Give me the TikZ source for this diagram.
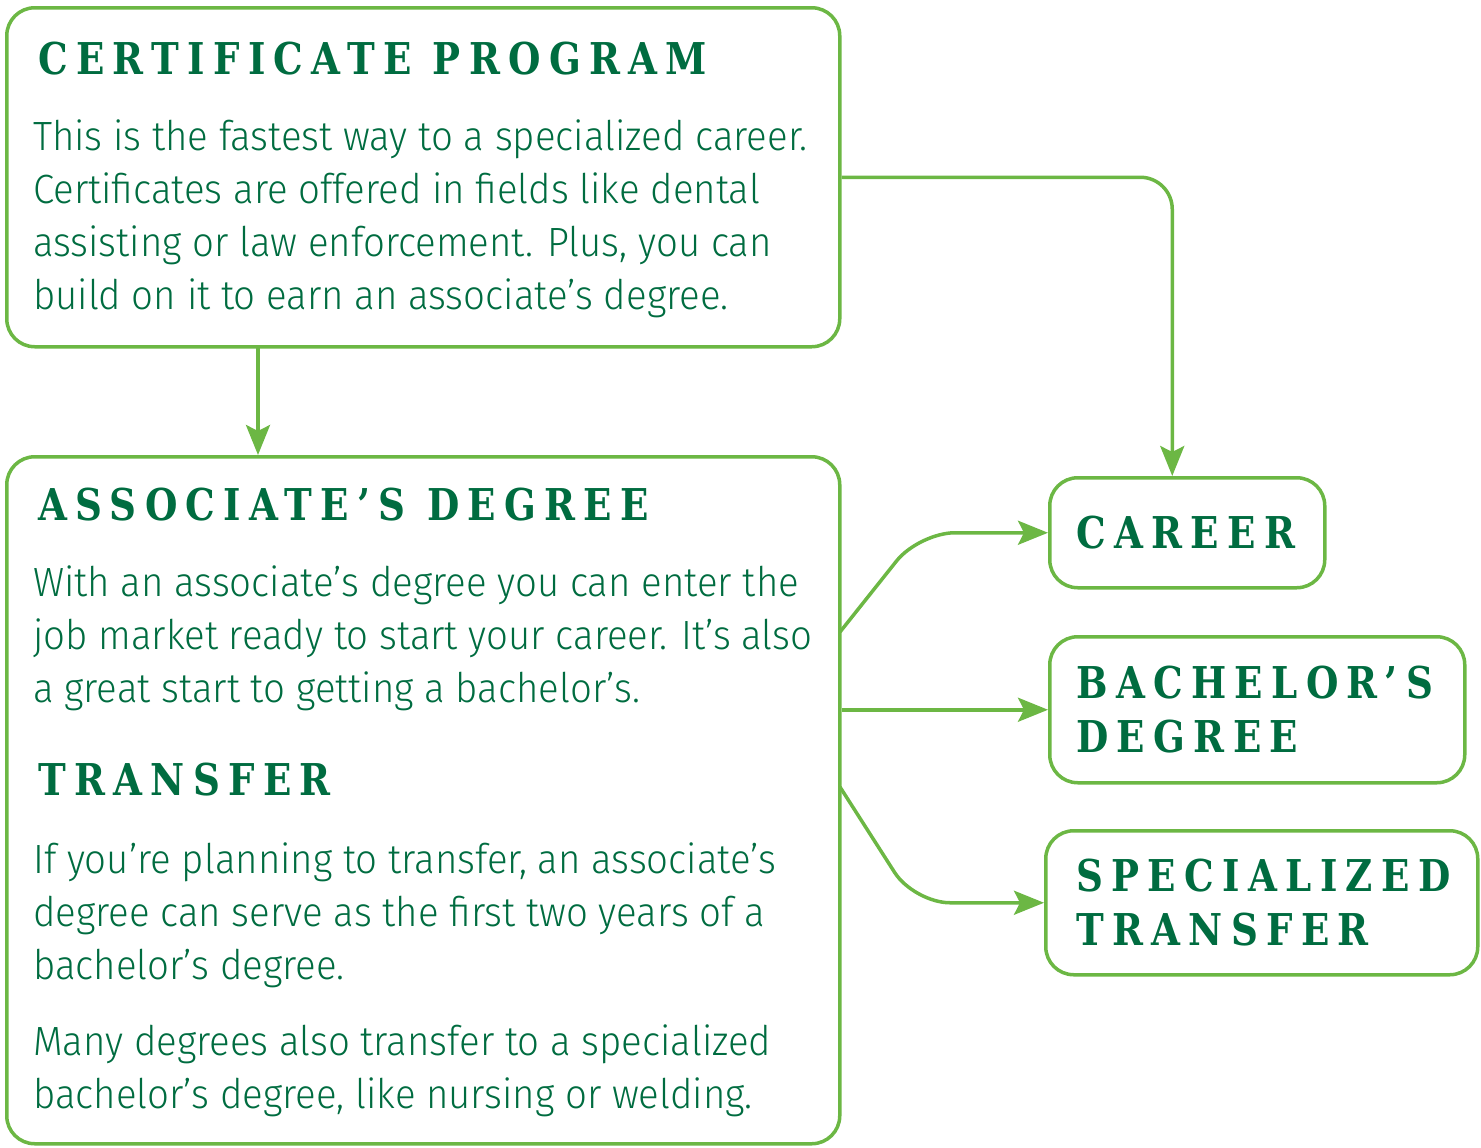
\documentclass[tikz,border=0pt]{standalone}
\usepackage{fontspec}
\setmainfont{Fira Sans Light}[FakeStretch=0.94]
\newfontfamily\headfont{DejaVu Serif}[FakeStretch=0.85,LetterSpace=19]
\usetikzlibrary{arrows.meta,calc}

\definecolor{linegreen}{RGB}{108,183,68}
\definecolor{textgreen}{RGB}{0,108,64}

\begin{document}
\begin{tikzpicture}[>={Stealth[length=30bp,width=24bp,inset=6bp]},line join=round,
  box/.style={draw=linegreen,line width=3.5bp,rounded corners=28bp,inner sep=0pt,anchor=north west},
  head/.style={text=textgreen,font=\headfont\bfseries\fontsize{44}{54}\selectfont,anchor=base west,inner sep=0pt,align=left},
  body/.style={text=textgreen,font=\fontsize{41}{53}\selectfont,anchor=base west,inner sep=0pt,align=left},
  flow/.style={->,draw=linegreen,line width=3.5bp}]

\useasboundingbox (0bp,0bp) rectangle (1481bp,-1148bp);

% Node: cert (text nodes sit on the baseline of their last line)
\node[box,minimum width=833bp,minimum height=339bp] (cert) at (5bp,-6bp) {};
\node[head] (certhead) at (38bp,-74bp) {CERTIFICATE PROGRAM};
\node[body] (certtext) at (33bp,-309bp) {This is the fastest way to a specialized career.\\
  Certificates are offered in fields like dental\\
  assisting or law enforcement. Plus, you can\\
  build on it to earn an associate’s degree.};

% Node: assoc
\node[box,minimum width=833bp,minimum height=687bp] (assoc) at (5bp,-455bp) {};
\node[head] (assochead) at (38bp,-520bp) {ASSOCIATE’S DEGREE};
\node[body] (assoctext) at (33bp,-702bp) {With an associate’s degree you can enter the\\
  job market ready to start your career. It’s also\\
  a great start to getting a bachelor’s.};
\node[head] (transhead) at (38bp,-795bp) {TRANSFER};
\node[body] (transtext) at (33bp,-979bp) {If you’re planning to transfer, an associate’s\\
  degree can serve as the first two years of a\\
  bachelor’s degree.};
\node[body] (spectext) at (33bp,-1108bp) {Many degrees also transfer to a specialized\\
  bachelor’s degree, like nursing or welding.};

% Node: career
\node[box,minimum width=275bp,minimum height=110bp] (career) at (1048bp,-476bp) {};
\node[head] (careerhead) at (1076bp,-548bp) {CAREER};

% Node: bach
\node[box,minimum width=415bp,minimum height=146bp] (bach) at (1048bp,-635bp) {};
\node[head] (bachhead) at (1076bp,-752bp) {BACHELOR’S\\DEGREE};

% Node: spec
\node[box,minimum width=432bp,minimum height=144bp] (spec) at (1044bp,-829bp) {};
\node[head] (spechead) at (1076bp,-945bp) {SPECIALIZED\\TRANSFER};

\coordinate (down) at (258bp,-347bp);
\coordinate (a1) at (840bp,-632bp);
\coordinate (a3) at (840bp,-787bp);

% Edge: cert -> assoc
\draw[flow] (down) -- (down |- assoc.north);

% Edge: cert -> career
\draw[flow,rounded corners=32bp] (cert.east) -| ($(career.north)+(-15bp,0)$);

% Edge: assoc -> career
\draw[flow,rounded corners=36bp] (a1) -- ($(career.west)+(-129bp,0)$) -- (career.west);

% Edge: assoc -> bach
\draw[flow] (assoc.east |- bach.west) -- (bach.west);

% Edge: assoc -> spec
\draw[flow,rounded corners=36bp] (a3) -- ($(spec.west)+(-130bp,0)$) -- (spec.west);

\end{tikzpicture}
\end{document}
